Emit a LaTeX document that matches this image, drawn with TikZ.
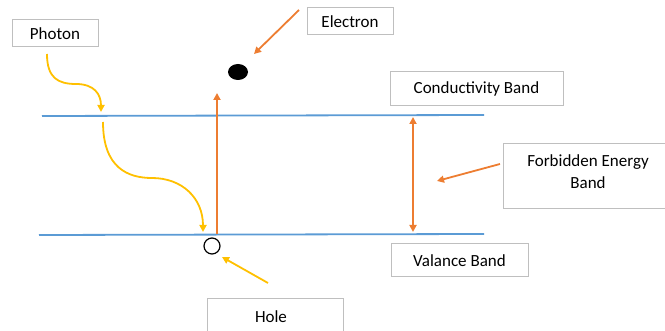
\documentclass[tikz,border=0pt]{standalone}
\usepackage{fontspec}
\setmainfont{Carlito}
\usetikzlibrary{arrows.meta,shapes.geometric}
\definecolor{bandblue}{HTML}{5B9BD5}
\definecolor{orng}{HTML}{ED7D31}
\definecolor{yell}{HTML}{FFC000}
\definecolor{boxgray}{HTML}{BFBFBF}
\tikzset{
  txt/.style={font=\fontsize{17}{22}\selectfont, align=center, inner sep=0pt},
  lbl/.style={draw=boxgray, line width=1pt, fill=white, inner sep=0pt, txt},
  band/.style={draw=bandblue, line width=1.8pt},
  oarr/.style={draw=orng, line width=1.8pt, -{Triangle[length=7pt,width=7pt]}},
  yarr/.style={draw=yell, line width=1.8pt, -{Triangle[length=7pt,width=7pt]}}
}
\begin{document}
\begin{tikzpicture}[x=1pt,y=-1pt]
\useasboundingbox (0,0) rectangle (665,331);
% boxes
\node[lbl, minimum width=86pt, minimum height=27pt] (photon) at (55,33.5) {Photon};
\node[lbl, minimum width=86pt, minimum height=27pt] (electron) at (350,21.5) {Electron};
\node[lbl, minimum width=173pt, minimum height=34pt] (cond) at (476.5,89) {Conductivity Band};
\node[lbl, minimum width=162pt, minimum height=65pt] (forb) at (584,176.5) {};
\node[txt] (forbtxt) at (588,172) {Forbidden Energy\\Band};
\node[lbl, minimum width=137pt, minimum height=33pt] (val) at (459.5,260.5) {Valance Band};
\draw[draw=boxgray, line width=1pt] (207,331) -- (207,299) -- (343,299) -- (343,331);
\node[txt] (hole) at (271,317) {Hole};
% bands
\coordinate (cb1) at (42,116); \coordinate (cb2) at (484,115);
\coordinate (vb1) at (39,235); \coordinate (vb2) at (484,234);
\draw[band] (cb1) -- (cb2);
\draw[band] (vb1) -- (vb2);
% electron and hole
\node[ellipse, fill=black, minimum width=20pt, minimum height=16pt, inner sep=0pt] (edot) at (238,72) {};
\node[circle, draw=black, line width=1.2pt, minimum size=16pt, inner sep=0pt] (hdot) at (212,246) {};
% orange arrows
\coordinate (v0) at (217,234); \coordinate (v1) at (217,93);
\draw[oarr] (v0) -- (v1);
\coordinate (e0) at (299,10); \coordinate (e1) at (254,54);
\draw[oarr] (e0) -- (e1);
\coordinate (g0) at (413,117); \coordinate (g1) at (413,232);
\draw[draw=orng, line width=1.8pt, {Triangle[length=7pt,width=7pt]}-{Triangle[length=7pt,width=7pt]}] (g0) -- (g1);
\coordinate (f0) at (500,164); \coordinate (f1) at (437,181);
\draw[oarr] (f0) -- (f1);
% yellow arrows
\coordinate (p0) at (47,54); \coordinate (pm) at (76,84); \coordinate (p1) at (101,112);
\draw[yarr] (p0) .. controls (47,78) and (58,84) .. (pm) .. controls (94,84) and (101,94) .. (p1);
\coordinate (q0) at (103,122); \coordinate (qm) at (152,178); \coordinate (q1) at (203,232);
\draw[yarr] (q0) .. controls (103,168) and (128,178) .. (qm) .. controls (182,178) and (203,198) .. (q1);
\coordinate (h0) at (268,283); \coordinate (h1) at (222,257);
\draw[yarr] (h0) -- (h1);
\end{tikzpicture}
\end{document}
